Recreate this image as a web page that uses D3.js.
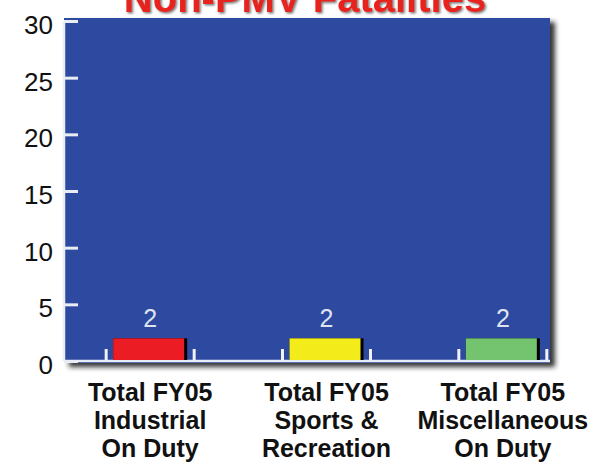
<!DOCTYPE html>
<html>
<head>
<meta charset="utf-8">
<script src="https://cdn.jsdelivr.net/npm/d3@7"></script>
<style>
  body { margin: 0; background: #fff; }
  #chart { width: 594px; height: 464px; }
  text { font-family: "Liberation Sans", Arial, sans-serif; }
</style>
</head>
<body>
<div id="chart"></div>
<script>
// chart data
const title = "Non-PMV Fatalities";
const categories = ["Industrial", "Sports", "Misc"];
const categoryLabels = [
    ["Total FY05", "Industrial", "On Duty"],
    ["Total FY05", "Sports &", "Recreation"],
    ["Total FY05", "Miscellaneous", "On Duty"]
];
const values = [2, 2, 2];
const yTicks = [0, 5, 10, 15, 20, 25, 30];
const barColors = ["#ec1c24", "#f4ec1a", "#74c36e"];

const width = 594, height = 464;
const plot = { left: 64, right: 550, top: 18, bottom: 363 };

const svg = d3.select("#chart")
    .append("svg")
    .attr("width", width)
    .attr("height", height);

const defs = svg.append("defs");
defs.append("filter")
    .attr("id", "shadow")
    .attr("x", "-5%").attr("y", "-5%")
    .attr("width", "115%").attr("height", "115%")
    .append("feDropShadow")
    .attr("dx", 5).attr("dy", 4)
    .attr("stdDeviation", 2.5)
    .attr("flood-color", "#1a1a1a")
    .attr("flood-opacity", 0.9);
defs.append("filter")
    .attr("id", "titleShadow")
    .append("feDropShadow")
    .attr("dx", 1.5).attr("dy", 1.5)
    .attr("stdDeviation", 1)
    .attr("flood-color", "#555")
    .attr("flood-opacity", 0.8);

const y = d3.scaleLinear()
    .domain([0, 30])
    .range([361, 21]);

const x = d3.scaleBand()
    .domain(categories)
    .range([62, 591]);

// title (cut off at the top of the picture, as in the original)
svg.append("text")
    .attr("x", 305)
    .attr("y", 12)
    .attr("text-anchor", "middle")
    .attr("font-size", 40)
    .attr("font-weight", "bold")
    .attr("fill", "#e8231e")
    .attr("filter", "url(#titleShadow)")
    .text(title);

// blue plot panel with shadow
svg.append("rect")
    .attr("x", plot.left)
    .attr("y", plot.top)
    .attr("width", plot.right - plot.left)
    .attr("height", plot.bottom - plot.top)
    .attr("fill", "#2d48a0")
    .attr("filter", "url(#shadow)");

// left axis
const yAxis = svg.append("g")
    .attr("transform", `translate(${plot.left},0)`)
    .call(d3.axisRight(y).tickValues(yTicks).tickSize(14).tickFormat(""));
yAxis.select(".domain")
    .attr("stroke", "#e8ecf4")
    .attr("stroke-width", 2.5)
    .attr("d", `M0,${y(30)}V${y(0)}`);
yAxis.selectAll(".tick line")
    .attr("stroke", "#e8ecf4")
    .attr("stroke-width", 3);

svg.append("g")
    .selectAll("text")
    .data(yTicks)
    .join("text")
    .attr("x", 53)
    .attr("y", d => y(d) + 13)
    .attr("text-anchor", "end")
    .attr("font-size", 26)
    .attr("fill", "#111")
    .text(d => d);

// baseline
svg.append("line")
    .attr("x1", plot.left)
    .attr("x2", plot.right)
    .attr("y1", y(0))
    .attr("y2", y(0))
    .attr("stroke", "#e8ecf4")
    .attr("stroke-width", 2.5);

// category tick marks either side of each bar
const tickOffsets = [-44, 44];
svg.append("g")
    .selectAll("line")
    .data(categories.flatMap(c => tickOffsets.map(o => ({ c, o }))))
    .join("line")
    .attr("x1", d => x(d.c) + x.bandwidth() / 2 + d.o)
    .attr("x2", d => x(d.c) + x.bandwidth() / 2 + d.o)
    .attr("y1", y(0) - 12)
    .attr("y2", y(0))
    .attr("stroke", "#f0f2f8")
    .attr("stroke-width", 3);

// bars (black right edge, coloured face)
const barW = 74;
const bars = svg.append("g")
    .selectAll("g")
    .data(categories)
    .join("g");

bars.append("rect")
    .attr("x", d => x(d) + x.bandwidth() / 2 - barW / 2)
    .attr("y", (d, i) => y(values[i]))
    .attr("width", barW)
    .attr("height", (d, i) => y(0) - y(values[i]) - 1)
    .attr("fill", "#000");

bars.append("rect")
    .attr("x", d => x(d) + x.bandwidth() / 2 - barW / 2)
    .attr("y", (d, i) => y(values[i]))
    .attr("width", barW - 3)
    .attr("height", (d, i) => y(0) - y(values[i]) - 1)
    .attr("fill", (d, i) => barColors[i]);

// value labels
bars.append("text")
    .attr("x", d => x(d) + x.bandwidth() / 2)
    .attr("y", (d, i) => y(values[i]) - 11)
    .attr("text-anchor", "middle")
    .attr("font-size", 25)
    .attr("fill", "#dfe3f0")
    .text((d, i) => values[i]);

// category labels
const labels = svg.append("g")
    .selectAll("text")
    .data(categories)
    .join("text")
    .attr("text-anchor", "middle")
    .attr("font-size", 25)
    .attr("font-weight", "bold")
    .attr("fill", "#111");

labels.selectAll("tspan")
    .data((d, i) => categoryLabels[i].map(t => ({ t, c: d })))
    .join("tspan")
    .attr("x", d => x(d.c) + x.bandwidth() / 2)
    .attr("y", (d, j) => 401 + j * 28)
    .text(d => d.t);
</script>
</body>
</html>
